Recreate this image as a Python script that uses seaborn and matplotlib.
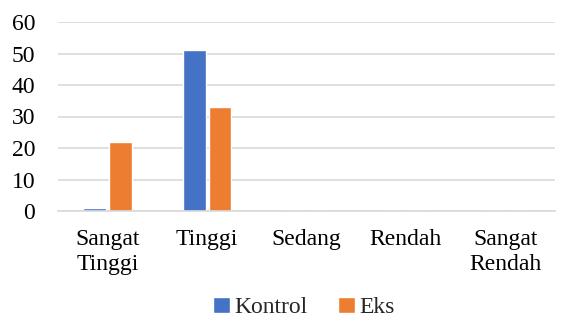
import matplotlib
matplotlib.use("Agg")
import matplotlib.pyplot as plt
import seaborn as sns
import pandas as pd

categories = ["Sangat\nTinggi", "Tinggi", "Sedang", "Rendah", "Sangat\nRendah"]
kontrol = [1, 51, 0, 0, 0]
eks = [22, 33, 0, 0, 0]
series_names = ["Kontrol", "Eks"]
yticks = [0, 10, 20, 30, 40, 50, 60]

df = pd.DataFrame({
    "cat": categories * 2,
    "val": kontrol + eks,
    "series": [series_names[0]] * len(categories) + [series_names[1]] * len(categories),
})

sns.set_theme(style="white")
plt.rcParams["font.family"] = ["Liberation Serif", "DejaVu Serif"]

fig = plt.figure(figsize=(5.61, 3.25), dpi=100)
ax = fig.add_axes([58 / 561, (325 - 211) / 325, (555 - 58) / 561, (211 - 22) / 325])

sns.barplot(data=df, x="cat", y="val", hue="series", order=categories,
            hue_order=series_names, palette=["#4472C4", "#ED7D31"],
            width=0.52, gap=0.12, ax=ax, legend=True, saturation=1)

ax.set_ylim(0, 60)
ax.set_yticks(yticks)
ax.set_xlim(-0.5, 4.5)
ax.yaxis.grid(True, color="#d9d9d9", linewidth=1.2)
ax.set_axisbelow(True)
for s in ["top", "right", "left"]:
    ax.spines[s].set_visible(False)
ax.spines["bottom"].set_color("#d9d9d9")
ax.spines["bottom"].set_linewidth(1.2)
ax.set_xlabel("")
ax.set_ylabel("")
ax.tick_params(axis="y", length=0, pad=16.5, labelsize=17, colors="black")
ax.tick_params(axis="x", length=0, pad=13, labelsize=17, colors="black")
for lab in ax.get_xticklabels():
    lab.set_linespacing(1.25)

handles, labels = ax.get_legend_handles_labels()
ax.get_legend().remove()
fig.legend(handles, labels, loc="lower center", bbox_to_anchor=(304 / 561, -0.015),
           ncol=2, frameon=False, fontsize=17, handlelength=0.7, handleheight=0.7,
           handletextpad=0.2, columnspacing=1.3, borderpad=0.0)

fig.savefig("out.png", dpi=100)
